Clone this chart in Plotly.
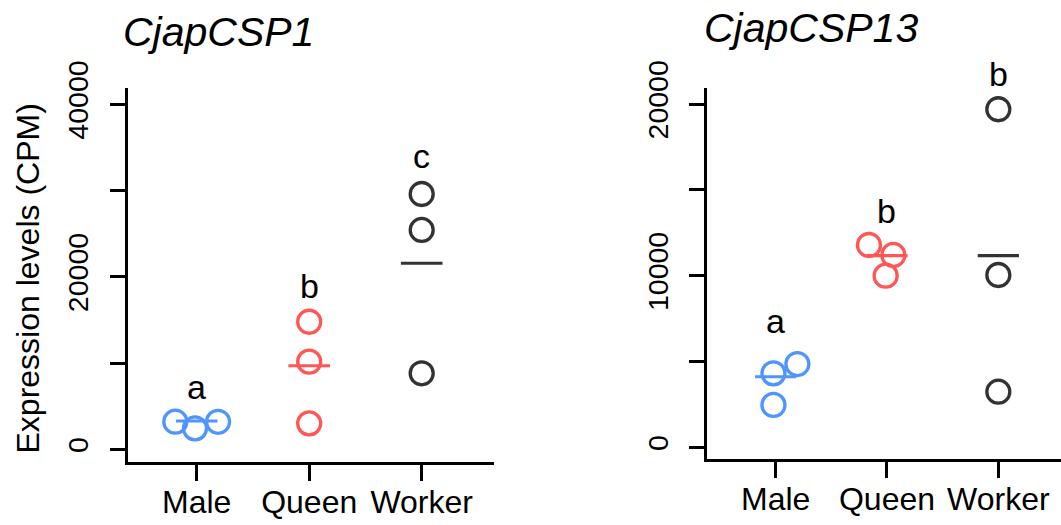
import plotly.graph_objects as go

# ---------------- data ----------------
groups = ["Male", "Queen", "Worker"]
colors = ["#4F94FF", "#FF5656", "#333333"]

# CjapCSP1 (left panel)
csp1_values = [
    [3200, 2430, 3190],
    [14790, 10160, 3010],
    [29600, 25430, 8810],
]
csp1_offsets = [
    [-0.19, -0.015, 0.19],
    [0.0, 0.0, 0.0],
    [0.0, 0.0, 0.0],
]
csp1_line = [3280, 9690, 21570]
csp1_letters = ["a", "b", "c"]
csp1_letter_y = [4790, 16530, 31570]
csp1_ticks = [0, 10000, 20000, 30000, 40000]
csp1_ticktext = ["0", "", "20000", "", "40000"]

# CjapCSP13 (right panel)
csp13_values = [
    [4310, 4850, 2470],
    [11790, 11210, 10000],
    [19700, 10040, 3240],
]
csp13_offsets = [
    [-0.02, 0.195, -0.02],
    [-0.162, 0.057, -0.012],
    [0.0, 0.0, 0.0],
]
csp13_line = [4110, 11170, 11170]
csp13_letters = ["a", "b", "b"]
csp13_letter_y = [6120, 12540, 20530]
csp13_ticks = [0, 5000, 10000, 15000, 20000]
csp13_ticktext = ["0", "", "10000", "", "20000"]

titles = ["CjapCSP1", "CjapCSP13"]
ytitle = "Expression levels (CPM)"

# ---------------- figure ----------------
W, H = 1061, 525
FONT = "Liberation Sans, Arial, sans-serif"
fig = go.Figure()

panels = [
    dict(vals=csp1_values, offs=csp1_offsets, line=csp1_line, let=csp1_letters,
         lety=csp1_letter_y, xa="x", ya="y"),
    dict(vals=csp13_values, offs=csp13_offsets, line=csp13_line, let=csp13_letters,
         lety=csp13_letter_y, xa="x2", ya="y2"),
]

half = 0.185
for p in panels:
    for gi, g in enumerate(groups):
        xc = gi + 1
        # centre line
        fig.add_trace(go.Scatter(
            x=[xc - half, xc + half], y=[p["line"][gi]] * 2, mode="lines",
            line=dict(color=colors[gi], width=3.2), xaxis=p["xa"], yaxis=p["ya"],
            showlegend=False, hoverinfo="skip"))
        # points
        fig.add_trace(go.Scatter(
            x=[xc + o for o in p["offs"][gi]], y=p["vals"][gi], mode="markers",
            marker=dict(symbol="circle-open", size=23, color=colors[gi],
                        line=dict(width=3.3, color=colors[gi])),
            xaxis=p["xa"], yaxis=p["ya"], showlegend=False, name=g))
        # letters
        fig.add_annotation(
            x=xc, y=p["lety"][gi], xref=p["xa"], yref=p["ya"], text=p["let"][gi],
            showarrow=False, yanchor="bottom", xanchor="center",
            font=dict(family=FONT, size=34, color="black"))

axis_common = dict(showgrid=False, zeroline=False, showline=True, linewidth=3,
                   linecolor="black", ticks="outside", tickwidth=3,
                   tickcolor="black", automargin=False)

fig.update_layout(
    width=W, height=H, margin=dict(l=0, r=0, t=0, b=0, pad=0, autoexpand=False),
    paper_bgcolor="white", plot_bgcolor="white", showlegend=False,
    xaxis=dict(domain=[127.5 / W, 493.8 / W], range=[0.385, 3.641], anchor="y",
               tickvals=[1, 2, 3], ticktext=groups, ticklen=16,
               tickfont=dict(family=FONT, size=32, color="black"),
               ticklabelstandoff=-6, **axis_common),
    yaxis=dict(domain=[(H - 461.8) / H, (H - 88) / H], range=[-1449, 41890],
               anchor="x", tickvals=csp1_ticks, ticktext=csp1_ticktext,
               tickangle=-90, ticklen=15,
               tickfont=dict(family=FONT, size=28.5, color="black"),
               ticklabelstandoff=10, **axis_common),
    xaxis2=dict(domain=[707.2 / W, 1.0], range=[0.385, 3.563], anchor="y2",
                tickvals=[1, 2, 3], ticktext=groups, ticklen=16,
                tickfont=dict(family=FONT, size=32, color="black"),
                ticklabelstandoff=-6, **axis_common),
    yaxis2=dict(domain=[(H - 458.5) / H, (H - 88) / H], range=[-653, 20938],
                anchor="x2", tickvals=csp13_ticks, ticktext=csp13_ticktext,
                tickangle=-90, ticklen=15,
                tickfont=dict(family=FONT, size=28.5, color="black"),
                ticklabelstandoff=10, **axis_common),
)

# titles
fig.add_annotation(x=218.5 / W, y=(H - 31.5) / H, xref="paper", yref="paper",
                   text="<i>%s</i>" % titles[0], showarrow=False,
                   xanchor="center", yanchor="middle",
                   font=dict(family=FONT, size=41, color="black"))
fig.add_annotation(x=811 / W, y=(H - 27.5) / H, xref="paper", yref="paper",
                   text="<i>%s</i>" % titles[1], showarrow=False,
                   xanchor="center", yanchor="middle",
                   font=dict(family=FONT, size=41, color="black"))
# y-axis title
fig.add_annotation(x=27.5 / W, y=(H - 279) / H, xref="paper", yref="paper",
                   text=ytitle, showarrow=False, textangle=-90,
                   xanchor="center", yanchor="middle",
                   font=dict(family=FONT, size=32, color="black"))

fig.write_html("out.html")
